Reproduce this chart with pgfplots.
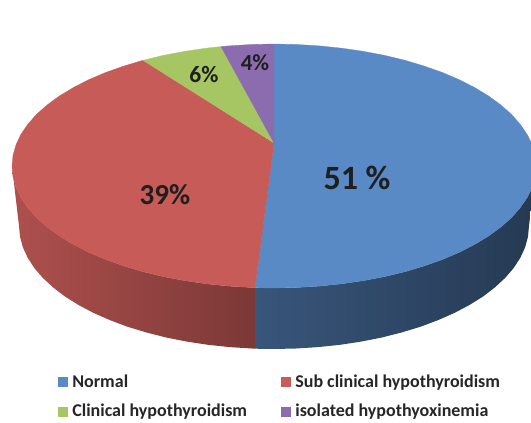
\documentclass[border=0pt]{standalone}
\usepackage{pgfplots}
\pgfplotsset{compat=1.18}
\usepackage{fontspec}
\setmainfont{Carlito}
\definecolor{cblue}{HTML}{5A8AC6}
\definecolor{cred}{HTML}{C65B58}
\definecolor{cgreen}{HTML}{A5C663}
\definecolor{cpurple}{HTML}{8B6DAF}
\begin{document}
\begin{tikzpicture}
\begin{axis}[
  scale only axis, width=531pt, height=423pt,
  xmin=0, xmax=531, ymin=0, ymax=423, y dir=reverse,
  hide axis,
  legend columns=2, legend cell align=left,
  legend image code/.code={\fill[#1] (0pt,-4.5pt) rectangle (9pt,4.5pt);},
  legend style={draw=none, fill=none, at={(axis cs:58,374.5)}, anchor=north west,
    inner sep=0pt, outer sep=0pt, row sep=15.5pt,
    font=\fontsize{18}{19}\selectfont\bfseries, text=black!85,
    nodes={inner sep=0pt, outer sep=0pt},
    /tikz/column 1/.style={column sep=5pt},
    /tikz/column 2/.style={column sep=34pt},
    /tikz/column 3/.style={column sep=5pt}},
]
% keeps the page the size of the reference
\addplot[forget plot, draw=none] coordinates {(0,0)(531,0)(531,423)(0,423)};
% side walls
\addplot[forget plot, draw=none, left color=cred!88!black, right color=cred!62!black] coordinates {
(12,166)(13,176.6)(16,187.2)(20.9,197.6)(27.8,207.7)(36.5,217.6)(47.1,227)(59.4,236)(73.3,244.4)(88.7,252.3)
(105.6,259.5)(123.7,265.9)(143,271.7)(163.3,276.6)(184.4,280.6)(206.2,283.8)(228.5,286.1)(251.2,287.5)(255,287.7)
(255,348.7)(251.8,348.5)(229.7,347.1)(208,344.8)(186.8,341.6)(166.2,337.5)(146.5,332.5)(127.7,326.8)(110.1,320.2)
(93.7,313)(78.7,305.1)(65.1,296.6)(53.2,287.5)(42.9,278)(34.4,268.1)(27.7,257.8)(22.9,247.4)(20,236.7)(19,226)(12,166)};
\addplot[forget plot, draw=none, left color=cblue!62!black, right color=cblue!42!black] coordinates {
(255,287.7)(274,288)(296.8,287.5)(319.5,286.1)(341.8,283.8)(363.6,280.6)(384.7,276.6)(405,271.7)(424.3,265.9)
(442.4,259.5)(459.3,252.3)(474.7,244.4)(488.6,236)(500.9,227)(511.5,217.6)(520.2,207.7)(527.1,197.6)(531,189.8)
(531,209)(529,226)(528,236.7)(525.1,247.4)(520.3,257.8)(513.6,268.1)(505.1,278)(494.8,287.5)(482.9,296.6)(469.3,305.1)
(454.3,313)(437.9,320.2)(420.3,326.8)(401.5,332.5)(381.8,337.5)(361.2,341.6)(340,344.8)(318.3,347.1)(296.2,348.5)
(274,349)(255,348.7)(255,287.7)};
% top faces
\addplot[fill=cblue, draw=cblue, line width=0.3pt] coordinates {
(274,143)(274,44)(296.8,44.5)(319.5,45.9)(341.8,48.2)(363.6,51.4)(384.7,55.4)(405,60.3)(424.3,66.1)(442.4,72.5)
(459.3,79.7)(474.7,87.6)(488.6,96)(500.9,105)(511.5,114.4)(520.2,124.3)(527.1,134.4)(531,142.2)(531,189.8)
(527.1,197.6)(520.2,207.7)(511.5,217.6)(500.9,227)(488.6,236)(474.7,244.4)(459.3,252.3)(442.4,259.5)(424.3,265.9)
(405,271.7)(384.7,276.6)(363.6,280.6)(341.8,283.8)(319.5,286.1)(296.8,287.5)(274,288)(255,287.7)(274,143)};
\addlegendentry{Normal}
\addplot[fill=cred, draw=cred, line width=0.3pt] coordinates {
(274,143)(143,60.3)(123.7,66.1)(105.6,72.5)(88.7,79.7)(73.3,87.6)(59.4,96)(47.1,105)(36.5,114.4)(27.8,124.3)
(20.9,134.4)(16,144.8)(13,155.4)(12,166)(13,176.6)(16,187.2)(20.9,197.6)(27.8,207.7)(36.5,217.6)(47.1,227)(59.4,236)
(73.3,244.4)(88.7,252.3)(105.6,259.5)(123.7,265.9)(143,271.7)(163.3,276.6)(184.4,280.6)(206.2,283.8)(228.5,286.1)
(251.2,287.5)(255,287.7)(274,143)};
\addlegendentry{Sub clinical hypothyroidism}
\addplot[fill=cgreen, draw=cgreen, line width=0.3pt] coordinates {
(274,143)(221,46.6)(206.2,48.2)(184.4,51.4)(163.3,55.4)(143,60.3)(274,143)};
\addlegendentry{Clinical hypothyroidism}
\addplot[fill=cpurple, draw=cpurple, line width=0.3pt] coordinates {
(274,143)(274,44)(251.2,44.5)(228.5,45.9)(221,46.6)(274,143)};
\addlegendentry{isolated hypothyoxinemia}
\node[font=\fontsize{34}{36}\selectfont\bfseries, text=black!88] at (axis cs:357,178) {51 \%};
\node[font=\fontsize{29}{31}\selectfont\bfseries, text=black!88] at (axis cs:165,195) {39\%};
\node[font=\fontsize{23.5}{25}\selectfont\bfseries, text=black!88] at (axis cs:204,74) {6\%};
\node[font=\fontsize{23}{25}\selectfont\bfseries, text=black!88] at (axis cs:255,63) {4\%};
\end{axis}
\end{tikzpicture}
\end{document}
